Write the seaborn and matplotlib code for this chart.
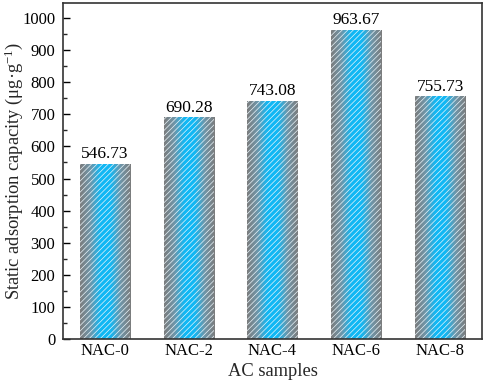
import numpy as np
import pandas as pd
import matplotlib
matplotlib.use("Agg")
import matplotlib.pyplot as plt
import seaborn as sns
from matplotlib.colors import LinearSegmentedColormap
from matplotlib.ticker import MultipleLocator

samples = ["NAC-0", "NAC-2", "NAC-4", "NAC-6", "NAC-8"]
capacity = [546.73, 690.28, 743.08, 963.67, 755.73]
labels = ["546.73", "690.28", "743.08", "963.67", "755.73"]

sns.set_theme(style="ticks")
plt.rcParams['font.family'] = ['Liberation Serif', 'DejaVu Serif']
plt.rcParams['mathtext.fontset'] = 'custom'
plt.rcParams['mathtext.rm'] = 'Liberation Serif'
plt.rcParams['mathtext.it'] = 'Liberation Serif:italic'
plt.rcParams['hatch.color'] = '#e8f4fa'
plt.rcParams['hatch.linewidth'] = 0.5

df = pd.DataFrame({"sample": samples, "capacity": capacity})

fig = plt.figure(figsize=(4.84, 3.84), dpi=100)
ax = fig.add_axes([63/484, 1-339/384, 419/484, 336/384])

sns.barplot(data=df, x="sample", y="capacity", color="#808080", width=0.6, ax=ax)

cmap = LinearSegmentedColormap.from_list(
    "g", [(0.0, "#7c7c7c"), (0.2, "#6f95a8"), (0.4, "#10b8f5"), (0.6, "#10b8f5"),
          (0.8, "#6f95a8"), (1.0, "#7c7c7c")])
grad = np.linspace(0, 1, 256).reshape(1, -1)
for p, lab in zip(ax.patches, labels):
    x0, y0 = p.get_x(), p.get_y()
    w, h = p.get_width(), p.get_height()
    im = ax.imshow(grad, cmap=cmap, aspect='auto', extent=[x0, x0 + w, y0, y0 + h],
                   zorder=1, interpolation='bicubic')
    im.set_clip_path(p)
    p.set_facecolor('none')
    p.set_edgecolor('#e8f4fa')
    p.set_linewidth(0)
    p.set_hatch('//////')
    p.set_zorder(2)
    ax.text(x0 + w / 2, y0 + h + 5, lab, ha='center', va='bottom', fontsize=12.5, color='black')

ax.set_xlim(-0.5, 4.5)
ax.set_ylim(0, 1047)
ax.yaxis.set_major_locator(MultipleLocator(100))
ax.yaxis.set_minor_locator(MultipleLocator(50))
ax.tick_params(axis='y', which='major', direction='in', length=5, width=1, labelsize=12, colors='black', pad=5.5)
ax.tick_params(axis='y', which='minor', direction='in', length=3, width=1)
ax.tick_params(axis='x', length=0, labelsize=12, pad=3, colors='black')
for s in ax.spines.values():
    s.set_visible(True)
    s.set_color('#333333')
    s.set_linewidth(1.2)
ax.set_xlabel("AC samples", fontsize=13.3, labelpad=3)
ax.set_ylabel("Static adsorption capacity (μg·g$^{-1}$)", fontsize=13.3)
ax.yaxis.set_label_coords(-38/419, 0.5)

fig.savefig("out.png", dpi=100)
